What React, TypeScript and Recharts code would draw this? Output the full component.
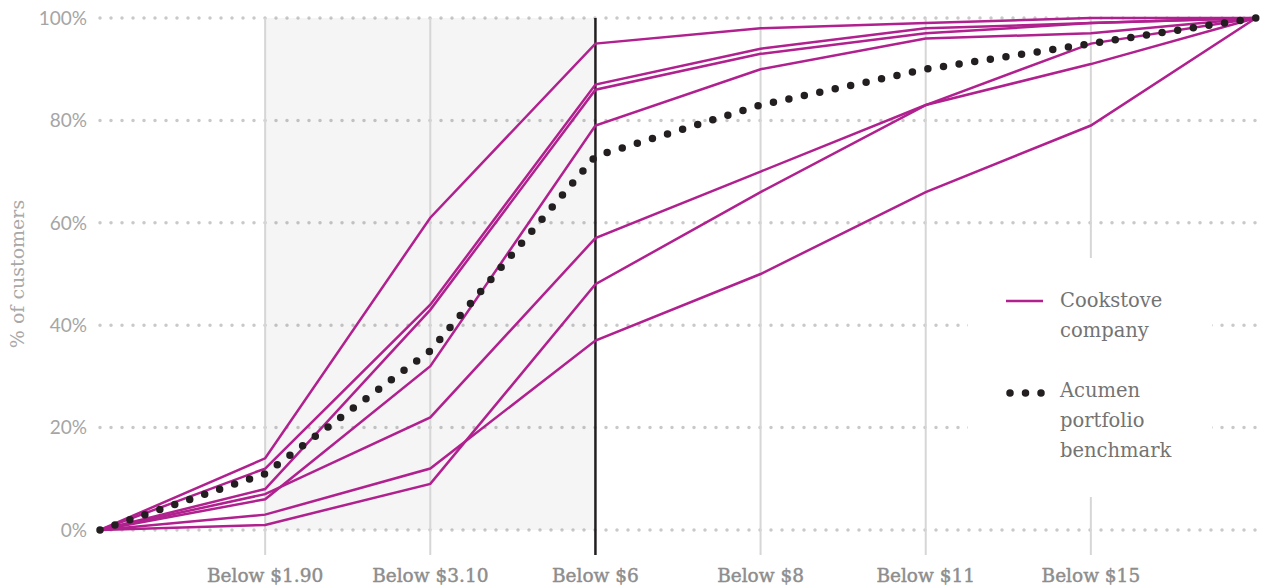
import {
	CartesianGrid,
	Label,
	Legend,
	Line,
	LineChart,
	ReferenceArea,
	ReferenceLine,
	XAxis,
	YAxis,
} from 'recharts';

const categories = ['$0', 'Below $1.90', 'Below $3.10', 'Below $6', 'Below $8', 'Below $11', 'Below $15', 'All'];
const tickLabels = ['', 'Below $1.90', 'Below $3.10', 'Below $6', 'Below $8', 'Below $11', 'Below $15', ''];

// seven cookstove companies, cumulative % of customers
const company1 = [0, 14, 61, 95, 98, 99, 100, 100];
const company2 = [0, 12, 44, 87, 94, 98, 99, 100];
const company3 = [0, 8, 43, 86, 93, 97, 99, 100];
const company4 = [0, 6, 32, 79, 90, 96, 97, 100];
const company5 = [0, 7, 22, 57, 70, 83, 91, 100];
const company6 = [0, 1, 9, 48, 66, 83, 95, 100];
const company7 = [0, 3, 12, 37, 50, 66, 79, 100];
const benchmark = [0, 11, 35, 73, 83, 90, 95, 100];

const companies = [company1, company2, company3, company4, company5, company6, company7];
const yTicks = [0, 20, 40, 60, 80, 100];
const legendLabels = [['Cookstove', 'company'], ['Acumen', 'portfolio', 'benchmark']];

const MAGENTA = '#b0208e';
const DARK = '#231f20';
const GRID = '#c9c9c9';
const VLINE = '#d6d6d6';
const POVERTY_LINE = 'Below $6';

const data = categories.map((cat, i) => {
	const row: { [key: string]: string | number } = { cat, benchmark: benchmark[i] };
	companies.forEach((c, j) => {
		row[`c${j + 1}`] = c[i];
	});
	return row;
});

const XTick = (props: any) => {
	const { x, y, payload } = props;
	const label = tickLabels[categories.indexOf(payload.value)];
	if (!label) return <g />;
	const isPoverty = payload.value === POVERTY_LINE;
	return (
		<g>
			<line
				x1={x}
				x2={x}
				y1={y - 39}
				y2={y - 14}
				stroke={isPoverty ? DARK : VLINE}
				strokeWidth={isPoverty ? 2.5 : 2}
			/>
			<text
				x={x}
				y={y}
				dy="0.72em"
				textAnchor="middle"
				fill="#8d8d8d"
				stroke="#8d8d8d"
				strokeWidth={0.45}
				fontFamily="DejaVu Serif"
				fontSize={18.5}
			>
				{label}
			</text>
		</g>
	);
};

const YLabel = (props: any) => {
	const vb = props.viewBox;
	const cx = 17;
	const cy = vb.y + vb.height / 2;
	return (
		<text
			x={cx}
			y={cy}
			transform={`rotate(-90, ${cx}, ${cy})`}
			textAnchor="middle"
			dominantBaseline="central"
			fill="#a8a8a8"
			fontFamily="DejaVu Serif"
			fontSize={19}
		>
			% of customers
		</text>
	);
};

const LegendBox = () => (
	<div
		style={{
			position: 'relative',
			width: 244,
			height: 239,
			fontFamily: 'DejaVu Serif',
			fontSize: 19.5,
			color: '#737373',
			lineHeight: '30px',
		}}
	>
		<svg style={{ position: 'absolute', left: 36, top: 38 }} width={42} height={10}>
			<line x1={2} y1={5} x2={39} y2={5} stroke={MAGENTA} strokeWidth={2.5} />
		</svg>
		<div style={{ position: 'absolute', left: 92, top: 28 }}>
			{legendLabels[0].map((t) => (
				<div key={t}>{t}</div>
			))}
		</div>
		<svg style={{ position: 'absolute', left: 36, top: 129 }} width={46} height={12}>
			<line
				x1={6}
				y1={6}
				x2={38}
				y2={6}
				stroke={DARK}
				strokeWidth={7.5}
				strokeLinecap="round"
				strokeDasharray="0 15.5"
			/>
		</svg>
		<div style={{ position: 'absolute', left: 92, top: 118 }}>
			{legendLabels[1].map((t) => (
				<div key={t}>{t}</div>
			))}
		</div>
	</div>
);

export default function App() {
	return (
		<div style={{ position: 'absolute', left: 0, top: 0, background: '#fff' }}>
			<LineChart
				width={1267}
				height={588}
				data={data}
				margin={{ top: 18, right: 11, left: 0, bottom: 0 }}
			>
				<ReferenceArea
					x1="Below $1.90"
					x2={POVERTY_LINE}
					y1={0}
					y2={100}
					fill="#000"
					fillOpacity={0.04}
					stroke="none"
				/>
				<CartesianGrid
					vertical={false}
					stroke={GRID}
					strokeWidth={3.5}
					strokeLinecap="round"
					strokeDasharray="0 11"
				/>
				{categories.slice(1, -1).map((cat) => (
					<ReferenceLine
						key={cat}
						x={cat}
						stroke={cat === POVERTY_LINE ? DARK : VLINE}
						strokeWidth={cat === POVERTY_LINE ? 2.5 : 2}
					/>
				))}
				<XAxis
					dataKey="cat"
					height={58}
					axisLine={false}
					tickLine={false}
					tickSize={0}
					tickMargin={39}
					interval={0}
					tick={<XTick />}
				/>
				<YAxis
					width={100}
					domain={[0, 100]}
					ticks={yTicks}
					axisLine={false}
					tickLine={false}
					tickSize={0}
					tickMargin={13}
					tickFormatter={(v) => `${v}%`}
					tick={{ fill: '#a5a5a5', fontFamily: 'Lato', fontSize: 19 }}
				>
					<Label content={<YLabel />} />
				</YAxis>
				{companies.map((_, j) => (
					<Line
						key={j}
						dataKey={`c${j + 1}`}
						type="linear"
						stroke={MAGENTA}
						strokeWidth={2.5}
						dot={false}
						activeDot={false}
						isAnimationActive={false}
					/>
				))}
				<Line
					dataKey="benchmark"
					type="linear"
					stroke={DARK}
					strokeWidth={7.5}
					strokeLinecap="round"
					strokeDasharray="0 15.8"
					dot={false}
					activeDot={false}
					isAnimationActive={false}
				/>
				<Legend
					verticalAlign="middle"
					align="center"
					layout="horizontal"
					content={<LegendBox />}
					wrapperStyle={{ left: 968, top: 258, width: 244, height: 239, background: '#fff' }}
				/>
			</LineChart>
		</div>
	);
}
